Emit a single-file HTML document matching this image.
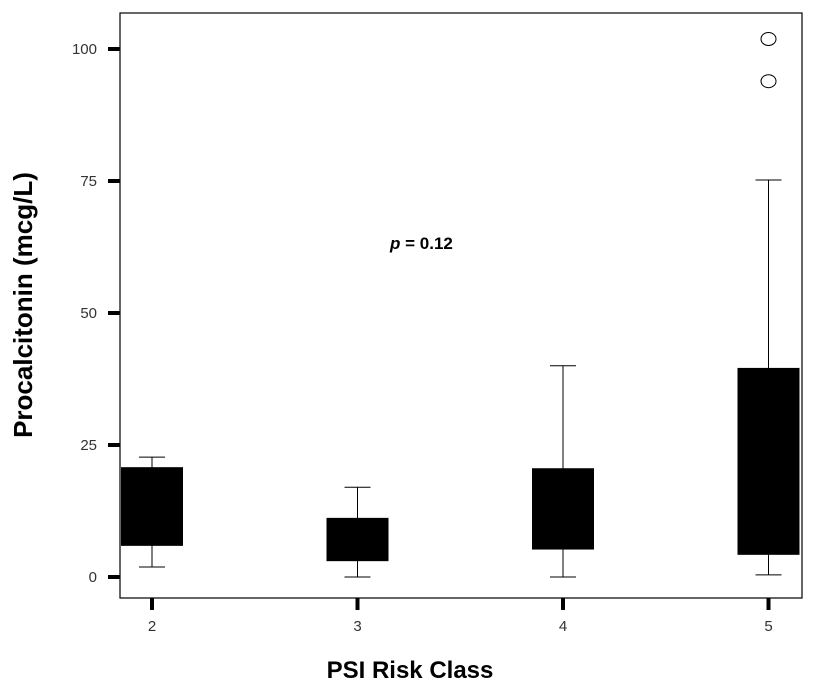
<!DOCTYPE html>
<html><head><meta charset="utf-8"><style>
html,body{margin:0;padding:0;background:#fff;}
svg{display:block;font-family:"Liberation Sans",Arial,sans-serif;}
</style></head><body>
<svg id="chart" width="820" height="700" viewBox="0 0 820 700">
<defs><clipPath id="pc"><rect x="120" y="13" width="682" height="585"/></clipPath></defs>
<rect x="120" y="13" width="682" height="585" fill="#fff" stroke="#000" stroke-width="1.2"/>
<g id="boxes" clip-path="url(#pc)"></g>
<g id="axes"></g>
<text x="32" y="305" transform="rotate(-90 32 305)" text-anchor="middle" font-size="26" font-weight="bold">Procalcitonin (mcg/L)</text>
<text x="410" y="678" text-anchor="middle" font-size="24" font-weight="bold">PSI Risk Class</text>
<text x="390" y="249" font-size="17" font-weight="bold"><tspan font-style="italic">p</tspan> = 0.12</text>
</svg>
<script>
const categories = ["2","3","4","5"];
const q1 = [5.9, 3.0, 5.2, 4.2];
const q3 = [20.8, 11.2, 20.6, 39.6];
const whiskerLow = [1.9, 0, 0, 0.4];
const whiskerHigh = [22.7, 17.0, 40.0, 75.2];
const outliers = [[], [], [], [101.9, 93.9]];
const yTicks = [0, 25, 50, 75, 100];

const NS = "http://www.w3.org/2000/svg";
const y = v => 577 - v * 5.28;
const x = i => 152 + i * 205.5;
const boxHalf = 31, capHalf = 13;
function mk(tag, attrs, parent){ const e=document.createElementNS(NS,tag); for(const k in attrs) e.setAttribute(k,attrs[k]); parent.appendChild(e); return e; }
const gb = document.getElementById('boxes'), ga = document.getElementById('axes');
categories.forEach((c,i)=>{
  const cx = x(i);
  let e = mk('line',{x1:cx,x2:cx,y1:y(whiskerHigh[i]),y2:y(whiskerLow[i]),stroke:'#000','stroke-width':1},gb);
  
  
  e = mk('line',{x1:cx-capHalf,x2:cx+capHalf,y1:y(whiskerHigh[i]),y2:y(whiskerHigh[i]),stroke:'#000','stroke-width':1},gb);
  
  
  e = mk('line',{x1:cx-capHalf,x2:cx+capHalf,y1:y(whiskerLow[i]),y2:y(whiskerLow[i]),stroke:'#000','stroke-width':1},gb);
  
  
  e = mk('rect',{x:cx-boxHalf,y:y(q3[i]),width:boxHalf*2,height:y(q1[i])-y(q3[i]),fill:'#000'},gb);
  
  
  outliers[i].forEach(v=>{
    const o = mk('ellipse',{cx:cx,cy:y(v),rx:7.5,ry:6.5,fill:'#fff',stroke:'#000','stroke-width':1},gb);
    
    
  });
  e = mk('line',{x1:cx,x2:cx,y1:598,y2:610,stroke:'#000','stroke-width':4},ga);
  
  
  const t = mk('text',{x:cx,y:631,'text-anchor':'middle','font-size':15,fill:'#333'},ga);
  t.textContent = c;
  
  
});
yTicks.forEach(v=>{
  let e = mk('line',{x1:108,x2:120,y1:y(v),y2:y(v),stroke:'#000','stroke-width':4},ga);
  
  
  const t = mk('text',{x:97,y:y(v)+5,'text-anchor':'end','font-size':15,fill:'#333'},ga);
  t.textContent = v;
  
  
});
</script>
</body></html>
